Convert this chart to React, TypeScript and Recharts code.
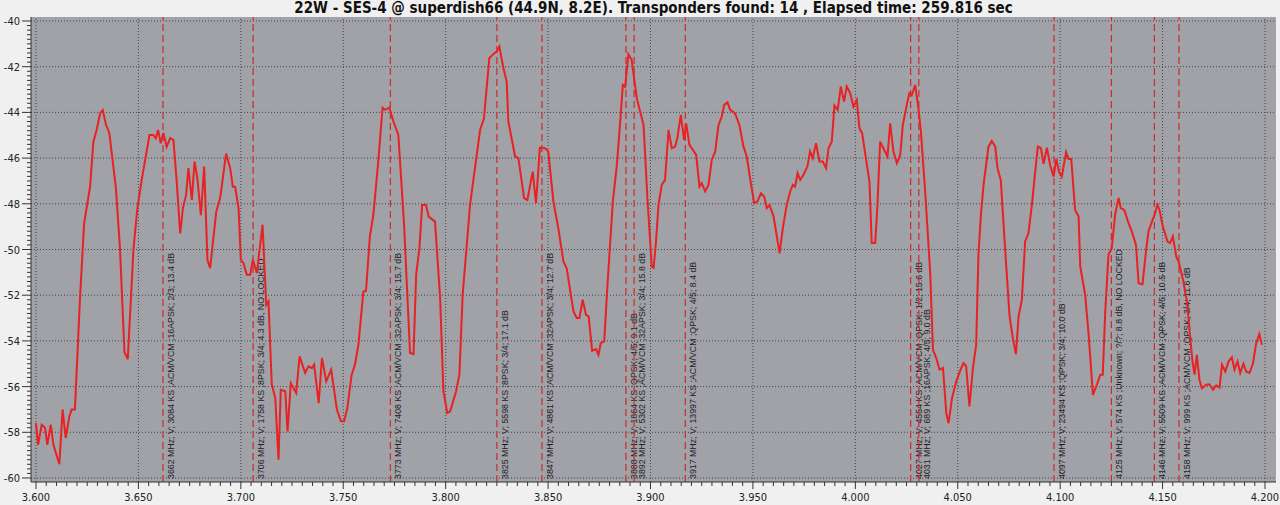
import { CartesianGrid, Line, LineChart, ReferenceLine, XAxis, YAxis } from "recharts";

const TITLE =
  "22W - SES-4 @ superdish66 (44.9N, 8.2E). Transponders found: 14 , Elapsed time: 259.816 sec";

// spectrum trace, frequency in GHz
const freqGHz = [
  3.6, 3.601, 3.6028, 3.6044, 3.6055, 3.6072, 3.6085, 3.6114, 3.613, 3.6145, 3.6163, 3.6174,
  3.619, 3.6215, 3.6235, 3.6264, 3.628, 3.6296, 3.6313, 3.6326, 3.6342, 3.6358, 3.639, 3.641,
  3.6432, 3.6448, 3.6476, 3.6495, 3.6516, 3.6533, 3.6554, 3.6573, 3.6585, 3.6596, 3.6609, 3.6622,
  3.6638, 3.6655, 3.6671, 3.6687, 3.6704, 3.6717, 3.6733, 3.6744, 3.6761, 3.6774, 3.6788, 3.6805,
  3.6821, 3.6837, 3.685, 3.688, 3.6899, 3.6928, 3.6948, 3.6961, 3.6972, 3.6989, 3.7, 3.7013,
  3.7029, 3.7046, 3.7059, 3.7078, 3.7106, 3.7124, 3.7135, 3.7151, 3.7168, 3.7184, 3.7195, 3.7217,
  3.7228, 3.7244, 3.727, 3.7287, 3.7314, 3.733, 3.7347, 3.7358, 3.738, 3.7396, 3.7417, 3.7441,
  3.7469, 3.7489, 3.7504, 3.752, 3.7541, 3.7557, 3.7574, 3.7598, 3.7611, 3.763, 3.7647, 3.7671,
  3.7692, 3.7704, 3.7725, 3.7745, 3.7769, 3.7797, 3.7826, 3.7843, 3.7856, 3.7872, 3.7885, 3.7904,
  3.7917, 3.7948, 3.7973, 3.7989, 3.8008, 3.8022, 3.8051, 3.8067, 3.8083, 3.8119, 3.8143, 3.8168,
  3.8187, 3.8213, 3.8233, 3.8249, 3.8262, 3.8282, 3.8298, 3.8306, 3.8339, 3.8355, 3.8383, 3.8399,
  3.8425, 3.8441, 3.846, 3.8485, 3.8501, 3.8526, 3.855, 3.8575, 3.8591, 3.8624, 3.864, 3.8653,
  3.8669, 3.8685, 3.8698, 3.8715, 3.8734, 3.8746, 3.8757, 3.8774, 3.879, 3.8816, 3.8835, 3.8851,
  3.8865, 3.8876, 3.8892, 3.8908, 3.8933, 3.8966, 3.8985, 3.9006, 3.9015, 3.9027, 3.9039, 3.9055,
  3.9071, 3.9088, 3.9104, 3.912, 3.9131, 3.9148, 3.9164, 3.9174, 3.919, 3.9207, 3.9223, 3.9239,
  3.925, 3.9267, 3.9283, 3.9299, 3.9316, 3.9332, 3.9348, 3.936, 3.9376, 3.9389, 3.9413, 3.9434,
  3.9454, 3.947, 3.9486, 3.9506, 3.9522, 3.9539, 3.9555, 3.9568, 3.9581, 3.9601, 3.963, 3.9646,
  3.9665, 3.9682, 3.9695, 3.9706, 3.9718, 3.9731, 3.9747, 3.9766, 3.9779, 3.9792, 3.9808, 3.9825,
  3.9841, 3.9857, 3.9869, 3.9885, 3.9898, 3.9914, 3.9929, 3.9945, 3.9958, 3.9975, 3.9991, 4.0007,
  4.002, 4.0033, 4.0069, 4.008, 4.0097, 4.0108, 4.0121, 4.0137, 4.0157, 4.017, 4.0186, 4.0203,
  4.0219, 4.0232, 4.0251, 4.0264, 4.0276, 4.0292, 4.0308, 4.032, 4.0341, 4.0366, 4.0379, 4.0395,
  4.0411, 4.0428, 4.0444, 4.0455, 4.0472, 4.0493, 4.0512, 4.0528, 4.0541, 4.0557, 4.0574, 4.059,
  4.0601, 4.0613, 4.0626, 4.065, 4.0666, 4.0683, 4.0694, 4.071, 4.0731, 4.0753, 4.0769, 4.0784,
  4.0797, 4.0813, 4.0829, 4.0845, 4.0862, 4.0878, 4.0891, 4.0906, 4.0919, 4.0935, 4.0951, 4.0968,
  4.0981, 4.0994, 4.1008, 4.1029, 4.1041, 4.1054, 4.1073, 4.109, 4.1098, 4.1122, 4.1139, 4.116,
  4.1179, 4.1196, 4.1208, 4.122, 4.1236, 4.1252, 4.1268, 4.1285, 4.1296, 4.1313, 4.1334, 4.135,
  4.137, 4.1383, 4.1402, 4.1418, 4.1431, 4.1448, 4.1461, 4.1475, 4.1485, 4.1501, 4.1524, 4.1537,
  4.155, 4.1567, 4.1578, 4.16, 4.1619, 4.1635, 4.1646, 4.1656, 4.1667, 4.168, 4.1692, 4.1713,
  4.1729, 4.1746, 4.1762, 4.1778, 4.179, 4.1806, 4.1822, 4.1838, 4.1851, 4.1866, 4.1879, 4.1895,
  4.1908, 4.1924, 4.1941, 4.1957, 4.1972, 4.1985,
];

const levelDb = [
  -57.6, -58.55, -57.67, -57.8, -58.55, -57.67, -58.55, -59.4, -57.0, -58.25, -57.3, -57.0,
  -57.0, -52.1, -48.85, -47.25, -45.3, -44.77, -44.04, -43.9, -44.55, -44.9, -47.3, -49.95,
  -54.5, -54.8, -49.95, -48.2, -46.95, -46.08, -44.99, -44.99, -45.13, -44.77, -45.35, -44.9,
  -45.5, -45.13, -45.2, -47.03, -49.3, -48.2, -47.6, -46.44, -47.83, -46.15, -46.9, -48.5,
  -46.37, -50.45, -50.82, -48.34, -47.75, -45.8, -46.44, -47.25, -47.25, -48.2, -50.45, -50.6,
  -51.1, -51.1, -50.45, -51.03, -48.92, -52.42, -52.27, -55.9, -56.5, -59.2, -56.14, -56.2,
  -57.96, -55.85, -56.28, -54.68, -55.4, -55.11, -55.19, -55.04, -56.72, -54.75, -55.77, -55.26,
  -57.0, -57.52, -57.52, -56.94, -55.48, -55.04, -54.17, -51.84, -51.81, -49.43, -48.48, -46.15,
  -43.79, -43.89, -43.79, -44.4, -44.99, -48.92, -54.53, -54.58, -51.1, -49.94, -48.05, -48.05,
  -48.56, -48.78, -52.13, -56.2, -57.16, -57.08, -56.2, -55.48, -51.98, -48.05, -46.44, -44.77,
  -44.26, -41.63, -41.44, -41.34, -41.12, -42.07, -42.65, -44.4, -45.93, -46.0, -47.75, -47.83,
  -46.59, -47.97, -45.54, -45.57, -45.71, -47.9, -49.07, -50.53, -50.82, -52.71, -53.0, -53.0,
  -52.2, -52.86, -52.93, -54.43, -54.36, -54.61, -54.1, -54.02, -51.55, -47.9, -46.37, -44.55,
  -42.8, -42.88, -41.46, -41.7, -43.38, -44.55, -47.75, -50.74, -50.8, -49.65, -48.05, -47.17,
  -46.95, -44.77, -45.57, -45.5, -45.13, -44.11, -45.2, -44.48, -45.42, -45.64, -45.86, -47.25,
  -47.1, -47.46, -47.17, -46.08, -45.71, -44.55, -44.18, -43.67, -43.56, -43.89, -44.04, -44.55,
  -45.5, -45.93, -46.88, -47.97, -47.9, -47.54, -47.68, -48.19, -48.05, -48.56, -50.16, -49.07,
  -48.05, -47.46, -47.17, -47.25, -46.66, -46.95, -46.73, -46.37, -45.71, -46.0, -45.35, -46.15,
  -46.15, -46.44, -45.57, -45.28, -43.7, -43.89, -42.87, -43.53, -42.87, -43.16, -43.75, -43.45,
  -44.69, -44.91, -47.03, -49.72, -49.72, -48.05, -45.28, -45.57, -45.93, -44.48, -45.71, -46.22,
  -45.86, -44.55, -43.67, -43.16, -43.24, -42.8, -43.82, -44.84, -47.46, -51.11, -54.39, -54.75,
  -55.26, -55.19, -57.16, -57.6, -56.5, -55.77, -55.3, -54.97, -55.11, -56.87, -55.19, -54.17,
  -50.23, -48.48, -47.17, -45.5, -45.25, -45.5, -46.44, -46.95, -49.94, -52.93, -53.88, -54.58,
  -52.93, -52.2, -49.65, -49.29, -48.05, -46.59, -45.5, -45.57, -46.25, -45.54, -46.3, -46.81,
  -46.04, -46.59, -46.81, -45.74, -46.04, -46.04, -48.27, -48.56, -50.74, -51.98, -53.73, -56.36,
  -55.92, -55.48, -55.48, -52.71, -50.23, -49.94, -48.48, -47.75, -48.19, -48.27, -48.85, -49.22,
  -49.8, -51.48, -51.52, -50.16, -49.21, -48.78, -48.48, -48.05, -48.27, -48.99, -49.65, -49.72,
  -49.43, -50.31, -50.53, -51.33, -52.27, -53.88, -54.9, -55.48, -54.61, -55.7, -56.07, -55.92,
  -55.9, -56.14, -55.95, -56.04, -55.04, -55.34, -54.9, -54.72, -55.26, -54.9, -55.4, -55.0,
  -55.34, -55.4, -55.0, -54.1, -53.7, -54.17,
];

const tpFreq = [
  3.662, 3.706, 3.773, 3.825, 3.847, 3.888, 3.892, 3.917, 4.027, 4.031, 4.097, 4.125, 4.146, 4.158,
];

const tpLabels = [
  "3662 MHz; V; 3084 KS ;ACM/VCM ;16APSK; 2/3; 13.4 dB",
  "3706 MHz; V; 1758 KS ;8PSK; 3/4; 4.3 dB, NO LOCKED",
  "3773 MHz; V; 7408 KS ;ACM/VCM ;32APSK; 3/4; 15.7 dB",
  "3825 MHz; V; 5598 KS ;8PSK; 3/4; 17.1 dB",
  "3847 MHz; V; 4861 KS ;ACM/VCM ;32APSK; 3/4; 12.7 dB",
  "3888 MHz; V; 1864 KS ;QPSK; 4/5; 9.1 dB",
  "3892 MHz; V; 5302 KS ;ACM/VCM ;32APSK; 3/4; 15.8 dB",
  "3917 MHz; V; 13997 KS ;ACM/VCM ;QPSK; 4/5; 8.4 dB",
  "4027 MHz; V; 4554 KS ;ACM/VCM ;QPSK; 1/2; 15.6 dB",
  "4031 MHz; V; 689 KS ;16APSK; 4/5; 9.0 dB",
  "4097 MHz; V; 23494 KS ;QPSK; 3/4; 10.0 dB",
  "4125 MHz; V; 574 KS ;Unknown; ?/?; 8.8 dB, NO LOCKED",
  "4146 MHz; V; 5509 KS ;ACM/VCM ;QPSK; 4/5; 10.5 dB",
  "4158 MHz; V; 999 KS ;ACM/VCM ;QPSK; 3/4; 11.6 dB",
];

const xMajor = [3.6, 3.65, 3.7, 3.75, 3.8, 3.85, 3.9, 3.95, 4.0, 4.05, 4.1, 4.15, 4.2];
const yMajor = [-60, -58, -56, -54, -52, -50, -48, -46, -44, -42, -40];

const data = freqGHz.map((f, i) => ({ f, db: levelDb[i] }));

// minor ticks: 0.005 GHz and 0.2 dB
const xTicks = Array.from({ length: 121 }, (_, i) => Math.round((3.6 + i * 0.005) * 1000) / 1000);
const yTicks = Array.from({ length: 101 }, (_, i) => Math.round((-60 + i * 0.2) * 10) / 10);

const isMajor = (list: number[], v: number) => list.some((m) => Math.abs(m - v) < 1e-6);

const tickFont = "'DejaVu Sans Condensed', 'DejaVu Sans', sans-serif";

function XTick({ x, y, payload }: any) {
  const major = isMajor(xMajor, payload.value);
  return (
    <g>
      <line x1={x} x2={x} y1={y} y2={y + (major ? 7 : 4)} stroke="#333" />
      {major && (
        <text x={x} y={y + 19} textAnchor="middle" fontSize={11} fontFamily={tickFont} fill="#222">
          {payload.value.toFixed(3)}
        </text>
      )}
    </g>
  );
}

function YTick({ x, y, payload }: any) {
  const major = isMajor(yMajor, payload.value);
  return (
    <g>
      <line x1={x} x2={x - (major ? 9 : 4)} y1={y} y2={y} stroke="#333" />
      {major && (
        <text x={x - 11} y={y + 4} textAnchor="end" fontSize={11} fontFamily={tickFont} fill="#222">
          {payload.value}
        </text>
      )}
    </g>
  );
}

function TpLabel({ viewBox, text }: any) {
  const tx = viewBox.x + 11;
  const ty = viewBox.y + viewBox.height - 3;
  return (
    <text
      x={tx}
      y={ty}
      transform={`rotate(-90, ${tx}, ${ty})`}
      fontSize={8.8}
      fontFamily="'Liberation Sans', Arial, sans-serif"
      fill="#1e1e1e"
    >
      {text}
    </text>
  );
}

export default function App() {
  return (
    <div
      style={{
        position: "absolute",
        left: 0,
        top: 0,
        width: 1280,
        height: 505,
        background: "#f0f0f0",
        overflow: "hidden",
      }}
    >
      <LineChart width={1280} height={505} data={data} margin={{ top: 17, right: 4, bottom: 0, left: 0 }}>
        <CartesianGrid fill="#a1a1a8" stroke="none" horizontal={false} vertical={false} />
        {xMajor.map((v) => (
          <ReferenceLine key={"gx" + v} x={v} stroke="#454545" strokeDasharray="1 2" />
        ))}
        {yMajor.map((v) => (
          <ReferenceLine key={"gy" + v} y={v} stroke="#454545" strokeDasharray="1 2" />
        ))}
        <XAxis
          type="number"
          dataKey="f"
          domain={[3.59756, 4.20537]}
          allowDataOverflow
          ticks={xTicks}
          interval={0}
          height={23}
          tickSize={0}
          tickMargin={0}
          tickLine={false}
          tick={<XTick />}
          axisLine={{ stroke: "#333" }}
        />
        <YAxis
          type="number"
          domain={[-60.175, -39.825]}
          allowDataOverflow
          ticks={yTicks}
          interval={0}
          width={31}
          tickSize={0}
          tickMargin={0}
          tickLine={false}
          tick={<YTick />}
          axisLine={{ stroke: "#333" }}
        />
        {tpFreq.map((f, i) => (
          <ReferenceLine
            key={"tp" + f}
            x={f}
            stroke="#d02a2a"
            strokeWidth={1.2}
            strokeDasharray="7 4"
            label={<TpLabel text={tpLabels[i]} />}
          />
        ))}
        <Line
          type="linear"
          dataKey="db"
          stroke="#e82222"
          strokeWidth={2}
          dot={false}
          isAnimationActive={false}
        />
      </LineChart>
      <div
        style={{
          position: "absolute",
          left: 31,
          top: 0,
          width: 1245,
          textAlign: "center",
          fontFamily: "'DejaVu Sans Condensed', 'DejaVu Sans', sans-serif",
          fontWeight: "bold",
          fontSize: 15,
          lineHeight: "17px",
          color: "#111",
          whiteSpace: "nowrap",
        }}
      >
        {TITLE}
      </div>
    </div>
  );
}
